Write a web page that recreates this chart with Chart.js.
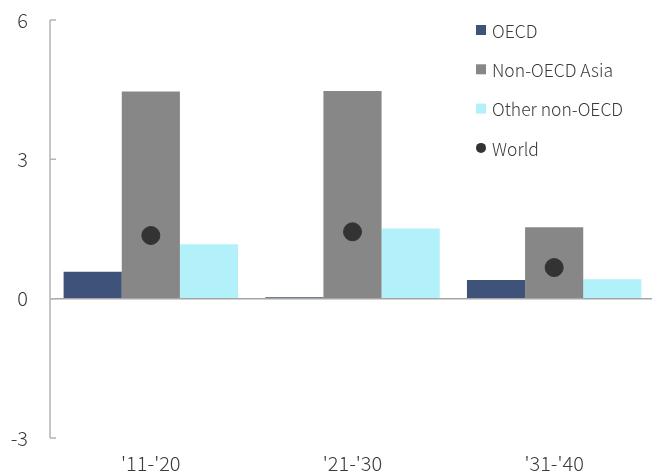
<!DOCTYPE html>
<html>
<head>
<meta charset="utf-8">
<script src="https://cdn.jsdelivr.net/npm/chart.js@4/dist/chart.umd.min.js"></script>
<style>
  html, body { margin: 0; padding: 0; background: #fff; overflow: hidden; }
  #wrap { width: 655px; height: 475px; position: relative; }
</style>
</head>
<body>
<div id="wrap"><canvas id="c"></canvas></div>
<script>
// Periods and average annual growth (%) by region
const periods = ["'11-'20", "'21-'30", "'31-'40"];
const oecd = [0.58, 0.03, 0.40];
const nonOecdAsia = [4.46, 4.47, 1.54];
const otherNonOecd = [1.17, 1.51, 0.42];
const world = [1.36, 1.44, 0.67];
const yTicks = [-3, 0, 3, 6];

const FONT = "'Noto Sans CJK KR', 'Noto Sans', sans-serif";
const TEXT = '#3a3a3a';

// Axis line with short inward ticks, plus the legend in the upper right
const decorations = {
  id: 'decorations',
  afterDraw(chart) {
    const ctx = chart.ctx;
    const y = chart.scales.y;
    const x0 = chart.chartArea.left;
    ctx.save();
    ctx.strokeStyle = '#b4b4b4';
    ctx.lineWidth = 1.5;
    ctx.beginPath();
    ctx.moveTo(x0, y.getPixelForValue(6));
    ctx.lineTo(x0, y.getPixelForValue(-3));
    yTicks.forEach(v => {
      const py = y.getPixelForValue(v);
      ctx.moveTo(x0, py);
      ctx.lineTo(x0 + 6, py);
    });
    ctx.stroke();

    // legend
    const lx = 476, ly = 30, step = 39.3;
    ctx.font = '300 17.5px ' + FONT;
    ctx.textBaseline = 'middle';
    ctx.textAlign = 'left';
    chart.data.datasets.forEach((ds, i) => {
      const cy = ly + i * step;
      if (ds.type === 'line') {
        ctx.fillStyle = ds.pointBackgroundColor;
        ctx.beginPath();
        ctx.arc(lx + 5, cy, 5, 0, Math.PI * 2);
        ctx.fill();
      } else {
        ctx.fillStyle = ds.backgroundColor;
        ctx.fillRect(lx, cy - 5, 10, 10);
      }
      ctx.fillStyle = TEXT;
      ctx.fillText(ds.label, lx + 16, cy + 1);
    });
    ctx.restore();
  }
};

new Chart(document.getElementById('c'), {
  data: {
    labels: periods,
    datasets: [
      { type: 'bar', label: 'OECD', data: oecd, backgroundColor: '#3f5279', order: 1 },
      { type: 'bar', label: 'Non-OECD Asia', data: nonOecdAsia, backgroundColor: '#878787', order: 1 },
      { type: 'bar', label: 'Other non-OECD', data: otherNonOecd, backgroundColor: '#b3f1fa', order: 1 },
      { type: 'line', label: 'World', data: world, showLine: false,
        pointBackgroundColor: '#333333', pointBorderColor: '#333333',
        pointRadius: 9, pointHoverRadius: 9, order: 0 }
    ]
  },
  options: {
    responsive: true,
    maintainAspectRatio: false,
    animation: false,
    devicePixelRatio: 1,
    layout: { autoPadding: false, padding: { top: 20, right: 0, left: 0, bottom: 0 } },
    datasets: { bar: { categoryPercentage: 0.865, barPercentage: 1.0 } },
    plugins: { legend: { display: false }, tooltip: { enabled: false } },
    scales: {
      x: {
        grid: { display: false },
        border: { display: false },
        ticks: { color: TEXT, font: { family: FONT, size: 20, weight: 300 }, padding: 5 },
        afterFit(s) { s.height = 37; s.paddingLeft = 0; s.paddingRight = 0; }
      },
      y: {
        min: -3, max: 6,
        afterBuildTicks(s) { s.ticks = yTicks.map(v => ({ value: v })); },
        grid: {
          drawTicks: false,
          color: c => (c.tick && c.tick.value === 0) ? '#a6a6a6' : 'rgba(0,0,0,0)',
          lineWidth: 1.5
        },
        border: { display: false },
        ticks: { color: TEXT, font: { family: FONT, size: 20, weight: 300 }, padding: 22 },
        afterFit(s) { s.width = 50; s.paddingTop = 0; s.paddingBottom = 0; }
      }
    }
  },
  plugins: [decorations]
});
</script>
</body>
</html>
